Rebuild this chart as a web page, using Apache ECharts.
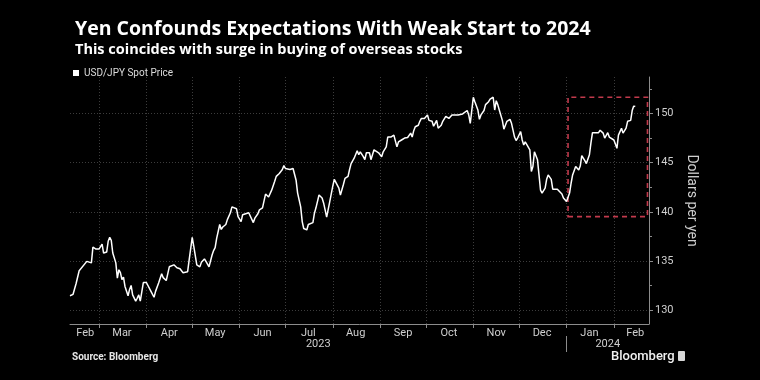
<!DOCTYPE html>
<html><head><meta charset="utf-8">
<script src="https://cdn.jsdelivr.net/npm/echarts@6/dist/echarts.min.js"></script>
<style>html,body{margin:0;padding:0;background:#000}#c{width:760px;height:380px}</style>
</head><body><div id="c"></div>
<script>
const seriesName = 'USD/JPY Spot Price';
const dates = [
'2023-02-10','2023-02-12','2023-02-14','2023-02-16','2023-02-17','2023-02-21','2023-02-22','2023-02-24','2023-02-25','2023-02-27',
'2023-03-01','2023-03-03','2023-03-04','2023-03-06','2023-03-07','2023-03-08','2023-03-09','2023-03-10','2023-03-12','2023-03-13',
'2023-03-14','2023-03-15','2023-03-16','2023-03-17','2023-03-18','2023-03-20','2023-03-21','2023-03-22','2023-03-23','2023-03-25',
'2023-03-26','2023-03-27','2023-03-28','2023-03-30','2023-04-01','2023-04-02','2023-04-04','2023-04-06','2023-04-07','2023-04-09',
'2023-04-11','2023-04-12','2023-04-14','2023-04-16','2023-04-19','2023-04-21','2023-04-23','2023-04-25','2023-04-26','2023-04-28',
'2023-04-29','2023-05-01','2023-05-02','2023-05-04','2023-05-06','2023-05-07','2023-05-09','2023-05-10','2023-05-12','2023-05-13',
'2023-05-14','2023-05-15','2023-05-16','2023-05-17','2023-05-19','2023-05-20','2023-05-21','2023-05-23','2023-05-24','2023-05-26',
'2023-05-27','2023-05-28','2023-05-30','2023-05-31','2023-06-02','2023-06-03','2023-06-05','2023-06-06','2023-06-07','2023-06-08',
'2023-06-10','2023-06-11','2023-06-13','2023-06-14','2023-06-15','2023-06-16','2023-06-18','2023-06-20','2023-06-21','2023-06-22',
'2023-06-24','2023-06-25','2023-06-26','2023-06-27','2023-06-29','2023-06-30','2023-07-01','2023-07-02','2023-07-04','2023-07-05',
'2023-07-06','2023-07-07','2023-07-08','2023-07-09','2023-07-11','2023-07-12','2023-07-13','2023-07-15','2023-07-16','2023-07-17',
'2023-07-19','2023-07-20','2023-07-21','2023-07-23','2023-07-25','2023-07-26','2023-07-27','2023-07-28','2023-07-30','2023-08-01',
'2023-08-02','2023-08-03','2023-08-05','2023-08-06','2023-08-08','2023-08-09','2023-08-11','2023-08-12','2023-08-13','2023-08-15',
'2023-08-16','2023-08-17','2023-08-18','2023-08-19','2023-08-21','2023-08-22','2023-08-23','2023-08-25','2023-08-26','2023-08-28',
'2023-08-29','2023-08-31','2023-09-01','2023-09-02','2023-09-03','2023-09-05','2023-09-06','2023-09-08','2023-09-09','2023-09-10',
'2023-09-12','2023-09-13','2023-09-15','2023-09-17','2023-09-18','2023-09-19','2023-09-21','2023-09-22','2023-09-23','2023-09-24',
'2023-09-26','2023-09-27','2023-09-28','2023-09-29','2023-09-30','2023-10-02','2023-10-03','2023-10-05','2023-10-06','2023-10-07',
'2023-10-08','2023-10-09','2023-10-11','2023-10-12','2023-10-14','2023-10-16','2023-10-17','2023-10-18','2023-10-20','2023-10-22',
'2023-10-23','2023-10-25','2023-10-26','2023-10-28','2023-10-29','2023-10-30','2023-11-01','2023-11-02','2023-11-04','2023-11-05',
'2023-11-06','2023-11-08','2023-11-09','2023-11-11','2023-11-12','2023-11-14','2023-11-15','2023-11-16','2023-11-17','2023-11-18',
'2023-11-20','2023-11-21','2023-11-22','2023-11-23','2023-11-25','2023-11-26','2023-11-28','2023-11-29','2023-11-30','2023-12-02',
'2023-12-03','2023-12-04','2023-12-05','2023-12-06','2023-12-08','2023-12-09','2023-12-10','2023-12-11','2023-12-13','2023-12-14',
'2023-12-15','2023-12-16','2023-12-18','2023-12-19','2023-12-20','2023-12-22','2023-12-23','2023-12-24','2023-12-26','2023-12-27',
'2023-12-29','2023-12-30','2024-01-01','2024-01-02','2024-01-03','2024-01-04','2024-01-05','2024-01-07','2024-01-08','2024-01-09',
'2024-01-10','2024-01-11','2024-01-13','2024-01-14','2024-01-16','2024-01-17','2024-01-18','2024-01-20','2024-01-21','2024-01-22',
'2024-01-23','2024-01-25','2024-01-26','2024-01-27','2024-01-28','2024-01-29','2024-01-30','2024-02-01','2024-02-02','2024-02-03',
'2024-02-04','2024-02-06','2024-02-07','2024-02-08','2024-02-09','2024-02-10','2024-02-11','2024-02-12','2024-02-13','2024-02-14',
'2024-02-15'
];
const values = [
131.45,131.6,132.7,134.0,134.1,134.95,134.8,134.8,136.4,136.2,
136.2,136.7,135.8,135.9,137.0,137.4,137.1,135.8,134.8,133.25,
134.1,133.8,133.1,133.35,132.4,131.45,132.1,132.5,131.55,130.9,
131.2,131.55,130.9,132.8,132.8,132.6,131.9,131.3,131.9,132.75,
133.7,133.3,133.0,134.4,134.6,134.3,134.2,133.8,133.7,133.9,
135.1,137.4,136.5,134.6,134.4,134.85,135.2,134.95,134.4,134.6,
135.6,136.05,136.35,137.3,138.7,138.2,138.45,138.7,139.2,139.9,
140.5,140.6,140.3,139.5,139.0,139.7,139.8,139.6,139.9,140.0,
138.9,139.35,139.8,140.2,140.1,140.4,141.8,141.5,141.6,142.2,
143.1,143.6,143.4,143.9,144.3,144.7,144.4,144.6,144.3,144.5,
144.4,144.3,143.2,141.9,140.5,139.0,138.3,138.15,138.7,138.7,
138.9,139.85,140.4,141.7,141.4,140.9,140.2,139.45,141.0,142.6,
143.3,143.1,142.4,141.7,142.8,143.4,143.6,144.3,144.9,145.45,
145.6,146.2,145.8,146.1,145.6,145.3,146.0,146.0,145.3,146.3,
146.5,146.0,146.1,145.6,146.1,146.6,147.6,147.6,147.4,147.8,
146.6,147.1,147.3,147.5,147.7,147.55,148.0,147.6,148.25,148.65,
148.8,149.2,149.5,149.4,149.5,149.85,149.3,149.2,148.7,149.0,
149.3,148.5,148.8,149.2,149.7,149.5,149.6,149.85,149.85,149.85,
149.75,149.95,150.1,150.3,149.85,149.0,151.65,151.2,150.35,149.4,
149.85,150.3,150.9,151.2,151.45,151.65,150.35,151.3,150.9,150.35,
149.3,148.4,148.4,149.2,149.4,149.0,147.6,147.25,147.5,148.15,
147.3,146.8,147.1,147.0,146.3,144.1,144.6,146.1,145.3,143.75,
142.2,141.9,142.4,143.3,143.75,143.3,142.3,142.4,142.3,142.3,
141.8,141.4,141.05,140.9,141.9,142.9,143.75,144.6,144.5,144.25,
144.65,145.7,145.2,144.9,145.8,147.0,148.05,148.05,148.05,148.05,
148.3,148.0,147.5,147.6,148.05,147.6,147.6,147.3,146.9,146.45,
147.8,148.5,148.0,148.05,148.5,149.2,149.2,149.3,150.3,150.75,
150.7
];
const xRange = ['2023-02-10', '2024-02-24'];
const monthTicks = ['2023-03-01','2023-04-01','2023-05-01','2023-06-01','2023-07-01','2023-08-01','2023-09-01','2023-10-01','2023-11-01','2023-12-01','2024-01-01','2024-02-01'];
const monthLabelDates = ['2023-02-20','2023-03-16','2023-04-16','2023-05-16','2023-06-16','2023-07-16','2023-08-16','2023-09-16','2023-10-16','2023-11-16','2023-12-16','2024-01-16','2024-02-15'];
const monthNames = ['Jan','Feb','Mar','Apr','May','Jun','Jul','Aug','Sep','Oct','Nov','Dec'];
const yearBreaks = ['2024-01-01'];
const yRange = [128.58, 153.71];
const yTicks = [130, 135, 140, 145, 150];
const yMinorTicks = [132.5, 137.5, 142.5, 147.5, 152.5];
const boxDates = ['2024-01-02', '2024-02-23'];
const boxValues = [139.5, 151.65];

const t = s => { const p = s.split('-').map(Number); return new Date(p[0], p[1]-1, p[2]).getTime(); };
const xMin = t(xRange[0]), xMax = t(xRange[1]);
const yb = t(yearBreaks[0]);
const yearLabelPos = [(xMin + yb) / 2, (yb + xMax) / 2];

const FONT = 'Roboto';
const TFONT = 'Open Sans';
const axisColor = '#8c8c8c';
const labelColor = '#cfcfcf';
const gridColor = '#3c3c3c';

const chart = echarts.init(document.getElementById('c'));
chart.setOption({
  backgroundColor: '#000',
  animation: false,
  textStyle: { fontFamily: FONT },
  title: [
    { text: 'Yen Confounds Expectations With Weak Start to 2024', left: 70, top: 14,
      textStyle: { color: '#fff', fontSize: 19.5, fontWeight: 'bold', fontFamily: TFONT } },
    { text: 'This coincides with surge in buying of overseas stocks', left: 70, top: 37,
      textStyle: { color: '#fff', fontSize: 14.5, fontWeight: 'bold', fontFamily: TFONT } }
  ],
  legend: {
    left: 68, top: 63, icon: 'rect', itemWidth: 6, itemHeight: 6, itemGap: 4,
    textStyle: { color: '#dcdcdc', fontSize: 10, fontFamily: FONT },
    data: [seriesName]
  },
  grid: { left: 70, right: 111, top: 77, bottom: 56, containLabel: false },
  xAxis: [
    { type: 'value', min: xMin, max: xMax, position: 'bottom', scale: true,
      axisLine: { show: true, lineStyle: { color: axisColor, width: 1 } },
      axisTick: { show: true, customValues: monthTicks.map(t), length: 4, lineStyle: { color: axisColor } },
      axisLabel: { customValues: monthLabelDates.map(t), color: labelColor, fontSize: 11, margin: 4,
        formatter: v => monthNames[new Date(v).getMonth()] },
      splitLine: { show: true, lineStyle: { color: gridColor, type: [1, 2], width: 1 } }
    },
    { type: 'value', min: xMin, max: xMax, position: 'bottom', offset: 12, scale: true,
      axisLine: { show: false },
      axisTick: { show: true, customValues: yearBreaks.map(t), length: 16, lineStyle: { color: axisColor } },
      axisLabel: { customValues: yearLabelPos, color: labelColor, fontSize: 11, margin: 3,
        formatter: v => String(new Date(v).getFullYear()) },
      splitLine: { show: false }
    }
  ],
  yAxis: [
    { type: 'value', position: 'right', min: yRange[0], max: yRange[1],
      axisLine: { show: true, lineStyle: { color: axisColor, width: 1 } },
      axisTick: { show: true, customValues: yTicks, length: 4, lineStyle: { color: axisColor } },
      axisLabel: { customValues: yTicks, color: labelColor, fontSize: 11, margin: 6 },
      splitLine: { show: true, lineStyle: { color: gridColor, type: [1, 2], width: 1 } },
      name: 'Dollars per yen', nameLocation: 'middle', nameRotate: -90, nameGap: 29,
      nameTextStyle: { color: labelColor, fontSize: 14, fontFamily: FONT }
    },
    { type: 'value', position: 'right', min: yRange[0], max: yRange[1],
      axisLine: { show: false },
      axisTick: { show: true, customValues: yMinorTicks, length: 3, lineStyle: { color: axisColor } },
      axisLabel: { show: false },
      splitLine: { show: false }
    }
  ],
  series: [{
    name: seriesName, type: 'line', xAxisIndex: 0, yAxisIndex: 0,
    showSymbol: false, symbol: 'none',
    lineStyle: { color: '#ffffff', width: 1.5 },
    itemStyle: { color: '#ffffff' },
    data: dates.map((d, i) => [t(d), values[i]]),
    markArea: {
      silent: true,
      itemStyle: { color: 'rgba(0,0,0,0)', borderColor: '#c23a4c', borderWidth: 1.6, borderType: [5, 4] },
      data: [[ { xAxis: t(boxDates[0]), yAxis: boxValues[0] }, { xAxis: t(boxDates[1]), yAxis: boxValues[1] } ]]
    }
  }],
  graphic: [
    { type: 'text', left: 72, top: 352, style: { text: 'Source: Bloomberg', fill: '#e6e6e6', font: 'bold 10px ' + FONT } },
    { type: 'text', left: 611, top: 350, style: { text: 'Bloomberg', fill: '#f0f0f0', font: '500 13px ' + FONT } },
    { type: 'rect', left: 678, top: 351, shape: { width: 7, height: 10, r: 1 }, style: { fill: '#d8d8d8' } }
  ]
});
</script>
</body></html>
